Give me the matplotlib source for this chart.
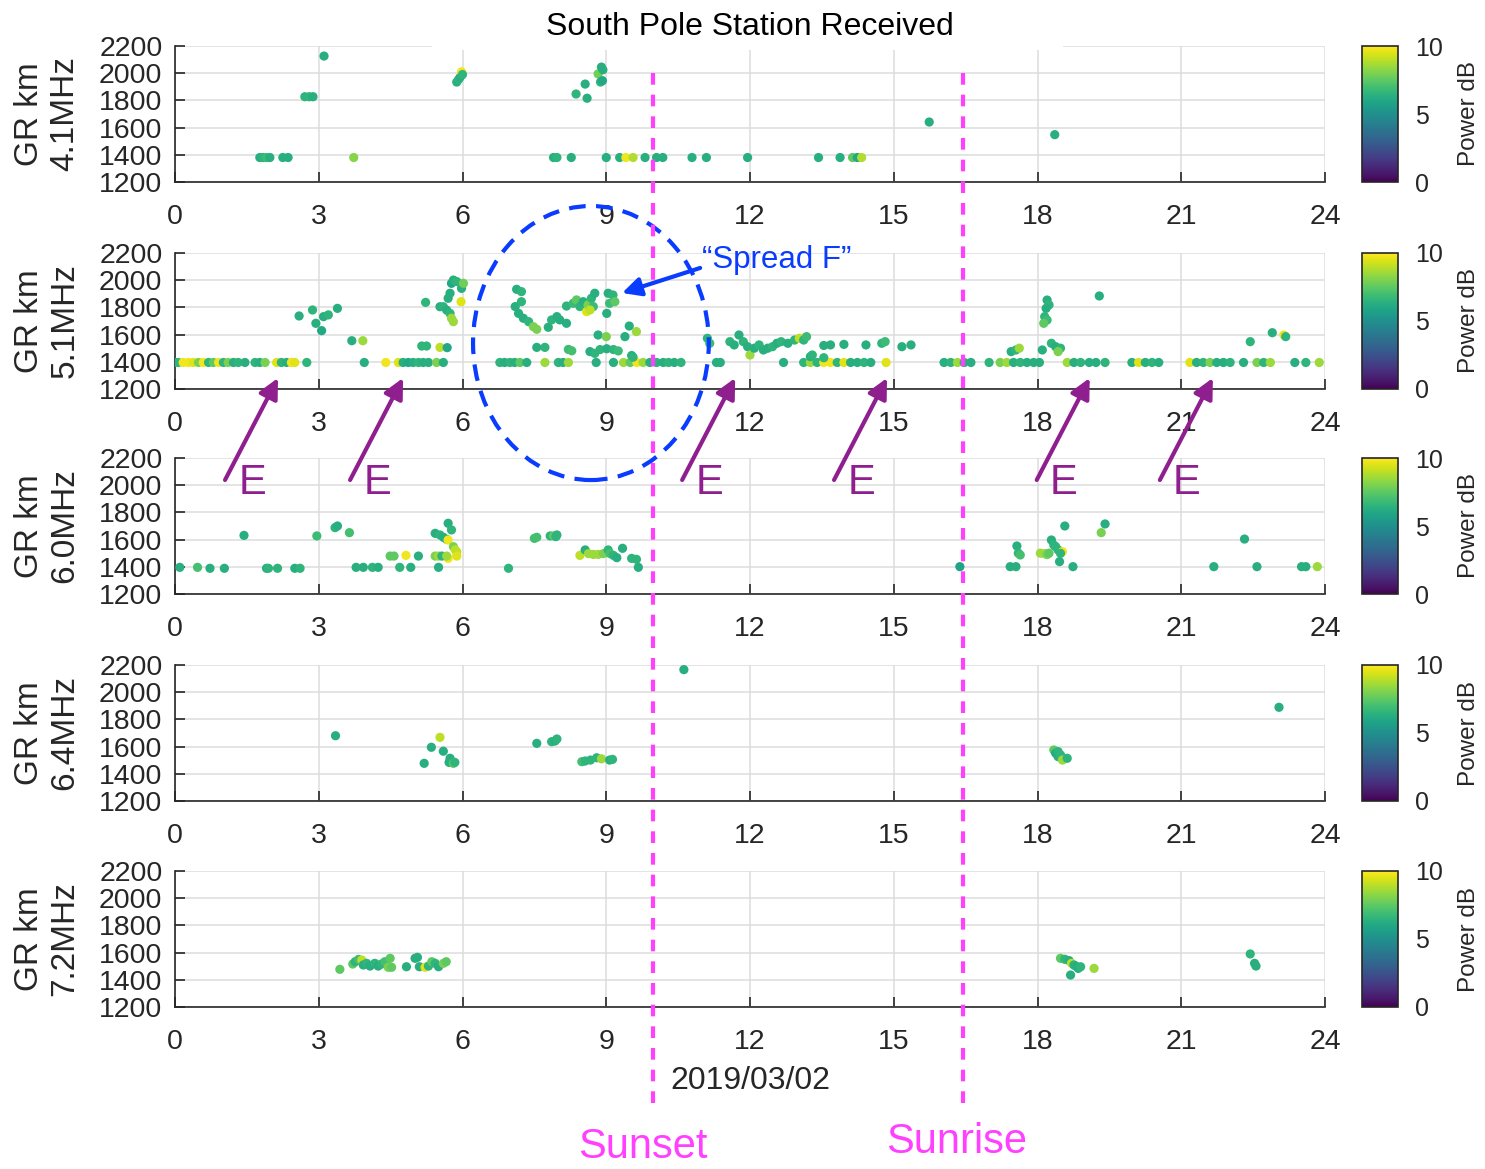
import matplotlib.pyplot as plt
import matplotlib.transforms as mtransforms
from matplotlib.lines import Line2D
from matplotlib.patches import Ellipse, Rectangle

plt.rcParams['font.family'] = ['Liberation Sans', 'DejaVu Sans']

# ---- data (hour UT, group range km, power dB) ----
freqs = ['4.1MHz', '5.1MHz', '6.0MHz', '6.4MHz', '7.2MHz']

h_41 = [1.77, 1.84, 1.91, 1.98, 2.25, 2.36, 2.71, 2.80, 2.88, 3.11, 3.73,
        5.88, 5.92, 5.95, 5.98, 6.00, 7.90, 7.97, 8.27, 8.37, 8.56, 8.60,
        8.83, 8.88, 8.90, 8.92, 8.93, 9.00, 9.28, 9.41, 9.56, 9.81, 10.05,
        10.18, 10.79, 11.09, 11.95, 13.43, 13.88, 14.14, 14.24, 14.33, 15.74, 18.36]
gr_41 = [1380, 1380, 1380, 1380, 1380, 1380, 1827, 1827, 1827, 2126, 1380,
         1935, 1955, 1970, 2010, 1990, 1380, 1380, 1380, 1847, 1920, 1816,
         1995, 1935, 2045, 1945, 2025, 1380, 1380, 1380, 1380, 1380, 1380,
         1380, 1380, 1380, 1380, 1380, 1380, 1380, 1380, 1380, 1641, 1548]
pw_41 = [6.3, 6.5, 6.8, 6.3, 6.3, 6.3, 6.5, 6.5, 6.3, 6.3, 8.2,
         6.3, 6.5, 6.3, 9.8, 6.5, 6.3, 6.5, 6.3, 6.5, 6.3, 6.3,
         7.8, 6.5, 6.3, 6.0, 6.3, 6.3, 6.3, 9.8, 8.8, 6.3, 6.3,
         6.3, 6.3, 6.3, 6.3, 6.3, 6.3, 7.5, 6.0, 8.8, 6.3, 6.3]

h_51 = [0.00, 0.07, 0.17, 0.28, 0.38, 0.49, 0.59, 0.70, 0.80, 0.91, 1.01, 1.11,
        1.22, 1.32, 1.46, 1.67, 1.77, 1.88, 2.12, 2.22, 2.33, 2.43, 2.50, 2.75,
        2.59, 2.87, 2.94, 3.06, 3.10, 3.20, 3.39,
        3.69, 3.92, 3.95, 4.40, 4.66, 4.76, 4.87, 4.97, 5.08, 5.18, 5.29, 5.46, 5.60,
        5.15, 5.25, 5.53, 5.68, 5.23, 5.53, 5.60, 5.67, 5.74, 5.77, 5.81, 5.88,
        5.98, 6.02, 5.97, 5.70, 5.74, 5.77, 5.81,
        6.78, 6.88, 6.99, 7.09, 7.20, 7.34, 7.72, 8.00, 8.10, 8.21,
        7.13, 7.23, 7.10, 7.23, 7.17, 7.27, 7.38, 7.48, 7.55, 7.79, 7.86, 7.97,
        8.03, 8.17, 8.17, 8.31, 8.38, 8.45, 8.52, 8.59, 8.62, 8.69, 8.76, 8.73,
        8.66, 9.04, 9.14, 9.07, 9.18, 9.01,
        7.55, 7.72, 8.21, 8.28, 8.66, 8.76, 8.83, 9.00, 8.87, 9.01, 9.15, 9.25,
        8.79, 9.15, 9.36, 9.50, 9.64, 9.77, 9.91, 10.05, 10.19, 10.30, 10.42, 10.56,
        9.39, 9.48, 9.63, 9.53, 9.56,
        11.30, 11.38, 12.70, 13.12, 13.26, 13.40, 13.54, 13.68, 13.82, 13.96,
        14.10, 14.24, 14.38, 14.52, 14.84,
        11.11, 11.16, 11.58, 11.67, 11.77, 11.86, 11.95, 12.00, 12.09, 12.19,
        12.28, 12.37, 12.47, 12.56, 12.65, 12.79, 12.93, 13.03, 13.12, 13.18,
        13.26, 13.30, 13.54, 13.68, 13.96, 14.42, 14.75, 14.82, 15.17, 15.36, 13.54,
        16.05, 16.19, 16.33, 16.47, 16.61, 16.99, 17.22, 17.36, 17.50, 17.64,
        17.78, 17.92, 18.04, 18.62, 18.76, 18.90, 19.08, 19.22, 19.41, 19.97,
        20.11, 20.25, 20.39, 20.53, 21.18, 21.32, 21.46, 21.60, 21.74, 21.88,
        22.02, 22.30, 22.58, 22.72, 22.86, 23.37, 23.60, 23.88,
        17.45, 17.55, 17.62, 18.10, 18.29, 18.38, 18.48, 18.43, 18.20, 18.24,
        18.18, 18.15, 18.20, 18.13, 19.29, 22.44, 22.90, 23.14, 23.18]
gr_51 = [1395, 1395, 1395, 1395, 1395, 1395, 1395, 1395, 1395, 1395, 1395, 1395,
         1395, 1395, 1395, 1395, 1395, 1395, 1395, 1395, 1395, 1395, 1395, 1395,
         1737, 1781, 1683, 1629, 1732, 1745, 1793,
         1555, 1555, 1395, 1395, 1395, 1395, 1395, 1395, 1395, 1395, 1395, 1395, 1395,
         1516, 1516, 1506, 1504, 1837, 1805, 1805, 1780, 1904, 1977, 2001, 1990,
         1940, 1977, 1842, 1867, 1756, 1720, 1695,
         1395, 1395, 1395, 1395, 1395, 1395, 1395, 1395, 1395, 1395,
         1933, 1916, 1806, 1842, 1756, 1720, 1695, 1658, 1639, 1654, 1708, 1732,
         1708, 1810, 1683, 1830, 1855, 1806, 1842, 1769, 1818, 1867, 1904, 1806,
         1781, 1904, 1891, 1830, 1842, 1756,
         1506, 1506, 1491, 1481, 1475, 1462, 1597, 1585, 1490, 1496, 1490, 1480,
         1395, 1395, 1395, 1395, 1395, 1395, 1395, 1395, 1395, 1395, 1395, 1395,
         1585, 1663, 1622, 1446, 1434,
         1395, 1395, 1395, 1395, 1395, 1395, 1395, 1395, 1395, 1395,
         1395, 1395, 1395, 1395, 1395,
         1573, 1536, 1548, 1524, 1597, 1548, 1511, 1450, 1500, 1524,
         1487, 1500, 1511, 1536, 1548, 1536, 1560, 1573, 1560, 1585,
         1438, 1450, 1520, 1524, 1528, 1524, 1536, 1548, 1511, 1524, 1430,
         1395, 1395, 1395, 1395, 1395, 1395, 1395, 1395, 1395, 1395,
         1395, 1395, 1395, 1395, 1395, 1395, 1395, 1395, 1395, 1395,
         1395, 1395, 1395, 1395, 1395, 1395, 1395, 1395, 1395, 1395,
         1395, 1395, 1395, 1395, 1395, 1395, 1395, 1395,
         1475, 1487, 1500, 1487, 1536, 1511, 1500, 1475, 1854, 1818,
         1793, 1732, 1707, 1683, 1884, 1548, 1614, 1597, 1585]
pw_51 = [6.3, 6.5, 9.8, 9.8, 9.5, 8.0, 9.8, 6.5, 7.5, 9.8, 6.5, 8.0,
         6.3, 6.5, 6.3, 6.5, 6.3, 8.0, 9.5, 6.5, 6.3, 9.8, 9.5, 6.5,
         6.3, 6.5, 6.3, 6.0, 6.3, 6.5, 6.3,
         6.3, 8.5, 6.3, 9.8, 9.5, 6.3, 6.0, 6.3, 6.5, 6.3, 6.3, 8.0, 6.3,
         6.5, 6.5, 9.0, 6.0, 6.5, 6.3, 6.5, 6.3, 6.3, 6.0, 6.3, 6.5,
         6.3, 7.8, 9.5, 6.3, 6.5, 8.5, 8.5,
         6.5, 6.3, 6.5, 6.3, 7.5, 6.3, 8.5, 6.5, 6.3, 8.5,
         6.3, 6.5, 6.3, 6.5, 6.3, 6.3, 6.5, 8.0, 8.0, 6.3, 6.5, 6.3,
         6.3, 6.5, 6.3, 6.8, 7.5, 6.5, 6.3, 9.5, 8.0, 6.5, 6.3, 6.8,
         9.0, 6.3, 6.5, 6.8, 7.5, 6.3,
         6.3, 6.5, 6.8, 7.0, 6.3, 6.5, 6.3, 8.0, 6.5, 6.3, 6.5, 6.8,
         6.3, 6.3, 8.5, 7.5, 9.8, 8.5, 6.3, 6.5, 6.3, 6.5, 6.3, 6.5,
         6.3, 6.3, 8.5, 6.3, 6.5,
         6.3, 6.3, 6.3, 6.5, 8.5, 6.5, 9.8, 9.8, 6.5, 9.5,
         6.3, 6.3, 6.5, 6.3, 9.5,
         6.5, 6.8, 6.5, 6.3, 6.3, 6.5, 6.3, 8.5, 6.3, 6.5,
         6.3, 6.3, 6.5, 6.3, 6.5, 6.3, 6.5, 9.0, 6.5, 6.8,
         6.3, 6.5, 6.3, 6.3, 6.3, 6.3, 6.5, 6.8, 6.3, 6.3, 6.5,
         6.3, 6.5, 8.5, 6.3, 6.3, 6.5, 8.0, 8.5, 6.3, 6.5,
         6.3, 6.3, 6.3, 8.5, 6.3, 6.5, 6.3, 6.3, 6.5, 6.3,
         9.5, 6.3, 6.5, 6.3, 9.5, 6.3, 6.5, 8.0, 6.3, 6.3,
         6.5, 6.3, 8.0, 6.5, 8.5, 6.3, 6.5, 8.5,
         6.3, 6.5, 8.5, 6.3, 6.5, 6.3, 6.5, 8.0, 6.3, 6.5,
         6.3, 6.5, 6.8, 7.5, 6.3, 6.5, 6.3, 9.8, 6.5]

h_60 = [0.10, 0.47, 0.73, 1.03, 1.44, 1.91, 1.95, 2.14, 2.50, 2.61, 2.96, 3.34, 3.39, 3.64,
        3.78, 3.93, 4.12, 4.24, 4.69, 4.92, 5.50, 4.49, 4.57, 4.82, 5.08,
        5.43, 5.53, 5.60, 5.67, 5.70, 5.77, 5.70, 5.81, 5.85, 5.88, 5.88, 5.70, 5.43, 5.50, 5.57, 5.67,
        6.96, 7.50, 7.55, 7.83, 7.90, 7.97, 7.95,
        8.45, 8.56, 8.63, 8.73, 8.83, 8.94, 9.04, 9.08, 9.15, 9.22, 9.34, 9.53, 9.63, 9.67,
        16.38, 17.43, 17.55, 17.57, 17.60, 17.64, 18.06, 18.15, 18.20, 18.24, 18.29, 18.34,
        18.38, 18.43, 18.52, 18.48, 18.46, 18.74, 18.57, 19.41, 19.33, 21.68, 22.32, 22.58,
        23.51, 23.60, 23.84]
gr_60 = [1396, 1396, 1389, 1389, 1631, 1389, 1389, 1389, 1389, 1389, 1627, 1688, 1700, 1651,
         1396, 1396, 1396, 1396, 1396, 1396, 1396, 1479, 1479, 1484, 1479,
         1646, 1634, 1617, 1602, 1720, 1671, 1597, 1548, 1524, 1510, 1479, 1462, 1479, 1479, 1479, 1479,
         1389, 1609, 1617, 1627, 1627, 1634, 1622,
         1484, 1524, 1497, 1491, 1491, 1497, 1524, 1497, 1484, 1467, 1536, 1462, 1455, 1396,
         1401, 1401, 1401, 1553, 1500, 1487, 1500, 1497, 1490, 1500, 1597, 1560,
         1548, 1524, 1511, 1499, 1438, 1401, 1700, 1715, 1651, 1401, 1604, 1401,
         1401, 1401, 1401]
pw_60 = [6.3, 7.0, 6.3, 6.3, 6.3, 6.3, 6.5, 6.5, 6.3, 6.5, 6.8, 6.5, 6.3, 7.0,
         6.3, 6.3, 6.5, 6.3, 6.5, 6.3, 6.3, 7.5, 7.5, 9.8, 6.3,
         6.3, 6.5, 6.3, 6.3, 6.3, 6.5, 9.8, 8.0, 9.0, 9.0, 9.5, 9.8, 8.0, 8.5, 6.5, 8.5,
         6.5, 7.0, 7.0, 6.5, 7.5, 6.5, 6.5,
         9.0, 6.3, 8.5, 8.5, 8.5, 8.0, 6.5, 7.0, 6.5, 6.3, 6.3, 6.5, 6.5, 6.3,
         5.8, 6.3, 6.3, 6.3, 6.5, 7.0, 8.5, 8.5, 8.0, 7.5, 6.3, 6.5,
         6.5, 6.5, 9.8, 6.5, 6.3, 6.3, 6.3, 6.3, 8.0, 6.3, 6.3, 6.3,
         6.3, 6.3, 8.5]

h_64 = [3.35, 5.20, 5.35, 5.53, 5.60, 5.74, 5.72, 5.81, 5.84, 7.55, 7.86, 7.93, 7.97,
        8.49, 8.56, 8.67, 8.80, 8.90, 9.07, 9.13, 10.62,
        18.34, 18.38, 18.43, 18.43, 18.48, 18.52, 18.62, 23.04]
gr_64 = [1680, 1477, 1595, 1668, 1566, 1514, 1484, 1477, 1484, 1624, 1636, 1641, 1656,
         1489, 1494, 1501, 1518, 1510, 1501, 1506, 2166,
         1575, 1551, 1563, 1526, 1539, 1501, 1514, 1889]
pw_64 = [6.3, 6.3, 6.3, 9.0, 6.3, 6.3, 6.3, 7.5, 6.5, 6.3, 6.5, 6.3, 6.5,
         7.0, 6.5, 6.5, 6.5, 8.5, 6.3, 6.5, 6.3,
         7.5, 6.0, 6.5, 6.3, 6.5, 8.5, 6.5, 6.3]

h_72 = [3.44, 3.71, 3.76, 3.83, 3.90, 3.93, 4.00, 4.07, 4.17, 4.24, 4.31, 4.38, 4.45,
        4.49, 4.52, 4.83, 5.01, 5.06, 5.10, 5.22, 5.29, 5.36, 5.43, 5.50, 5.60, 5.66,
        18.48, 18.57, 18.66, 18.69, 18.71, 18.76, 18.80, 18.85, 18.90, 19.18,
        22.44, 22.53, 22.56]
gr_72 = [1477, 1516, 1533, 1550, 1545, 1509, 1521, 1501, 1521, 1501, 1516, 1533, 1492,
         1558, 1492, 1496, 1558, 1565, 1496, 1492, 1501, 1533, 1521, 1496, 1521, 1533,
         1558, 1551, 1541, 1435, 1521, 1509, 1501, 1484, 1496, 1484,
         1590, 1521, 1501]
pw_72 = [7.5, 7.5, 6.5, 7.0, 9.0, 6.3, 6.5, 6.3, 6.5, 6.3, 6.5, 7.0, 8.0,
         7.5, 7.5, 6.3, 6.3, 6.3, 6.3, 9.5, 6.5, 7.5, 6.5, 6.3, 8.0, 7.5,
         7.5, 6.5, 6.3, 6.3, 9.0, 6.5, 6.3, 6.3, 6.5, 8.5,
         6.5, 6.3, 6.3]

panels = [(h_41, gr_41, pw_41), (h_51, gr_51, pw_51), (h_60, gr_60, pw_60),
          (h_64, gr_64, pw_64), (h_72, gr_72, pw_72)]

# annotation positions (hours UT)
sunset_hr = 9.97
sunrise_hr = 16.45
e_heads = [2.15, 4.76, 11.69, 14.86, 19.09, 21.66]

# ---- layout ----
W, H = 1485, 1169
fig = plt.figure(figsize=(W / 100, H / 100), dpi=100, facecolor='white')
tops = [46, 253, 458, 665, 871]
ph = 136
dark = '#262626'
magenta = '#ff40ff'
purple = '#8f1f8f'
blue = '#0a3cff'

axes = []
for i, ((hh, gg, pp), f) in enumerate(zip(panels, freqs)):
    top = tops[i]
    ax = fig.add_axes([175 / W, 1 - (top + ph) / H, 1150 / W, ph / H])
    sc = ax.scatter(hh, gg, c=pp, cmap='viridis', vmin=0, vmax=10, s=44,
                    edgecolors='none', zorder=3)
    ax.set_xlim(0, 24)
    ax.set_ylim(1200, 2200)
    ax.set_xticks(range(0, 25, 3))
    ax.set_yticks(range(1200, 2201, 200))
    ax.grid(True, color='#dcdcdc', lw=1.1)
    ax.set_axisbelow(True)
    for s in ['top', 'right']:
        ax.spines[s].set_visible(False)
    for s in ['left', 'bottom']:
        ax.spines[s].set_color(dark)
        ax.spines[s].set_linewidth(1.2)
    ax.tick_params(direction='in', length=7, width=1.2, colors=dark, labelsize=20.5)
    ax.tick_params(axis='x', pad=16)
    ax.tick_params(axis='y', pad=9)
    ax.set_ylabel('GR km\n' + f, fontsize=24, color=dark, linespacing=1.2)
    ax.yaxis.set_label_coords(-0.082, 0.5)

    cax = fig.add_axes([1362 / W, 1 - (top + ph) / H, 36 / W, ph / H])
    cb = fig.colorbar(sc, cax=cax, ticks=[0, 5, 10])
    cb.outline.set_edgecolor(dark)
    cb.outline.set_linewidth(1.2)
    cax.tick_params(length=0, labelsize=18, pad=12, colors=dark)
    cb.set_label('Power dB', fontsize=17.5, color=dark, labelpad=11)
    axes.append(ax)

# panel with annotations drawn above the others
axes[1].set_zorder(5)

axes[0].set_title('South Pole Station Received', fontsize=23, pad=8)
fig.add_artist(Rectangle((432 / W, 1 - 50 / H), (1063 - 432) / W, 8 / H,
                         transform=fig.transFigure, facecolor='white',
                         edgecolor='none', zorder=4))
axes[-1].set_xlabel('2019/03/02', fontsize=23, color=dark, labelpad=8)

# sunset / sunrise lines across all panels
trans = mtransforms.blended_transform_factory(axes[0].transData, fig.transFigure)
for xv in [sunset_hr, sunrise_hr]:
    fig.add_artist(Line2D([xv, xv], [0.0565, 0.940], transform=trans, color=magenta,
                          lw=3, ls=(0, (2.8, 2.4)), zorder=10))
fig.text(sunset_hr - 0.2, 0.0185, 'Sunset', transform=trans, color=magenta,
         fontsize=30, ha='center', va='center')
fig.text(sunrise_hr - 0.13, 0.0235, 'Sunrise', transform=trans, color=magenta,
         fontsize=30, ha='center', va='center')

# spread F circle and arrow
ax2 = axes[1]
ax2.add_patch(Ellipse((8.68, 1538), 4.92, 2015, fill=False, edgecolor=blue, lw=3,
                      ls=(0, (4.0, 2.5)), clip_on=False, zorder=10))
ax2.annotate('', xy=(9.33, 1906), xytext=(10.96, 2090),
             arrowprops=dict(arrowstyle='-|>', color=blue, lw=3, mutation_scale=28,
                             shrinkA=0, shrinkB=0), annotation_clip=False, zorder=10)
ax2.text(10.99, 2150, '\u201cSpread F\u201d', color=blue, fontsize=22.5,
         ha='left', va='center', zorder=10)

# E layer arrows
for xe in e_heads:
    ax2.annotate('', xy=(xe, 1281), xytext=(xe - 1.106, 531),
                 arrowprops=dict(arrowstyle='-|>', color=purple, lw=3, mutation_scale=30,
                                 shrinkA=0, shrinkB=0), annotation_clip=False, zorder=10)
    ax2.text(xe - 0.54, 509, 'E', color=purple, fontsize=30, ha='center', va='center',
             clip_on=False, zorder=10)

fig.savefig('out.png', dpi=100, facecolor='white')
